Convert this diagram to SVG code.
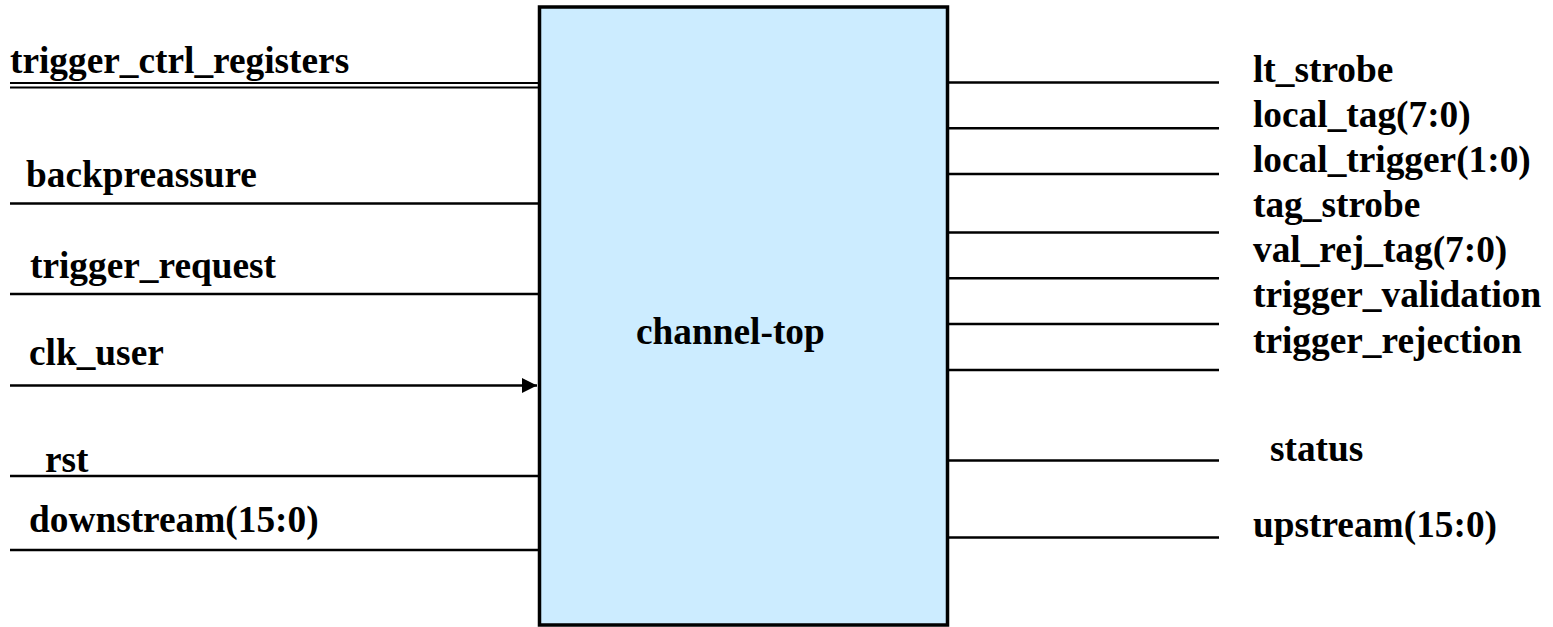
<svg xmlns="http://www.w3.org/2000/svg" width="1553" height="627" viewBox="0 0 1553 627">
  <style>
    .lbl { font-family: "Liberation Serif", "Times New Roman", serif; font-weight: bold; font-size: 37.33px; fill: #000; }
    .sig { stroke: #000; stroke-width: 2.5; fill: none; }
    .bus { stroke: #000; stroke-width: 2; fill: none; }
    .block { fill: #CCECFF; stroke: #000; stroke-width: 3.5; }
  </style>
  <defs>
    <marker id="arrow" markerUnits="userSpaceOnUse" markerWidth="16" markerHeight="16" refX="15" refY="7.5" orient="auto">
      <path d="M0,0 L15,7.5 L0,15 Z" fill="#000"/>
    </marker>
  </defs>
  <rect width="1553" height="627" fill="#fff"/>

  <!-- central block -->
  <g id="channel-top">
    <rect class="block" x="539.5" y="7" width="408" height="618"/>
    <text class="lbl" x="636" y="344">channel-top</text>
  </g>

  <!-- input and output wires -->
  <g id="connectors">
    <line class="bus" x1="10" y1="83" x2="538" y2="83"/>
    <line class="bus" x1="10" y1="87.5" x2="538" y2="87.5"/>
    <line class="sig" x1="10" y1="203.5" x2="538" y2="203.5"/>
    <line class="sig" x1="10" y1="294" x2="538" y2="294"/>
    <line class="sig" x1="10" y1="385.5" x2="537" y2="385.5" marker-end="url(#arrow)"/>
    <line class="sig" x1="10" y1="476" x2="538" y2="476"/>
    <line class="sig" x1="10" y1="550" x2="538" y2="550"/>

    <line class="sig" x1="949" y1="82.5" x2="1219" y2="82.5"/>
    <line class="sig" x1="949" y1="128.3" x2="1219" y2="128.3"/>
    <line class="sig" x1="949" y1="174" x2="1219" y2="174"/>
    <line class="sig" x1="949" y1="232.5" x2="1219" y2="232.5"/>
    <line class="sig" x1="949" y1="278.3" x2="1219" y2="278.3"/>
    <line class="sig" x1="949" y1="324" x2="1219" y2="324"/>
    <line class="sig" x1="949" y1="370" x2="1219" y2="370"/>
    <line class="sig" x1="949" y1="460.5" x2="1219" y2="460.5"/>
    <line class="sig" x1="949" y1="537.5" x2="1219" y2="537.5"/>
  </g>

  <!-- input port labels -->
  <g id="inputs">
    <text class="lbl" x="10" y="73">trigger_ctrl_registers</text>
    <text class="lbl" x="26" y="187">backpreassure</text>
    <text class="lbl" x="30" y="278">trigger_request</text>
    <text class="lbl" x="29" y="365">clk_user</text>
    <text class="lbl" x="45" y="472">rst</text>
    <text class="lbl" x="29" y="532">downstream(15:0)</text>
  </g>

  <!-- output port labels -->
  <g id="outputs">
    <text class="lbl" x="1253" y="82">lt_strobe</text>
    <text class="lbl" x="1253" y="127">local_tag(7:0)</text>
    <text class="lbl" x="1253" y="172">local_trigger(1:0)</text>
    <text class="lbl" x="1253" y="217">tag_strobe</text>
    <text class="lbl" x="1253" y="262">val_rej_tag(7:0)</text>
    <text class="lbl" x="1253" y="307">trigger_validation</text>
    <text class="lbl" x="1253" y="353">trigger_rejection</text>
    <text class="lbl" x="1270" y="461">status</text>
    <text class="lbl" x="1253" y="537">upstream(15:0)</text>
  </g>
</svg>
